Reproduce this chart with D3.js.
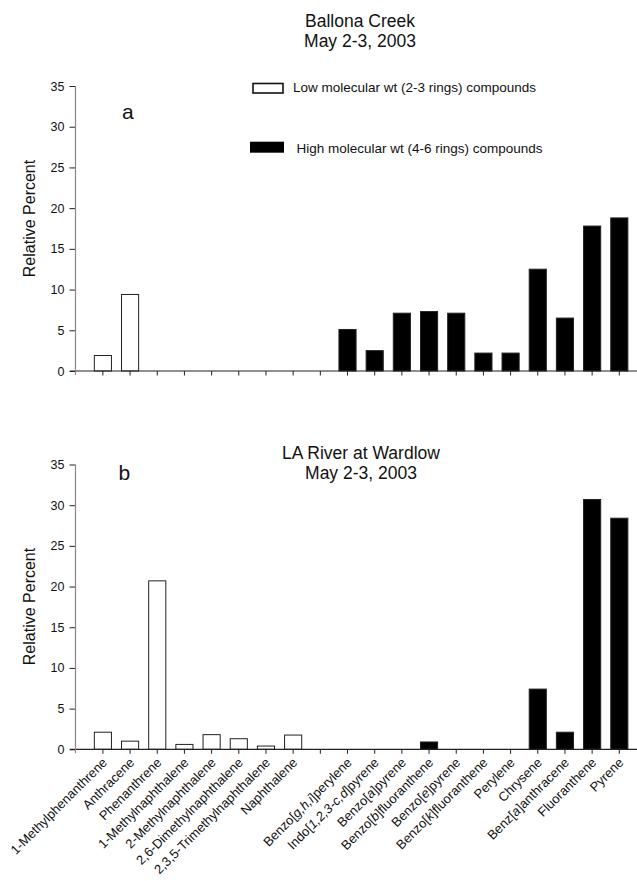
<!DOCTYPE html>
<html>
<head>
<meta charset="utf-8">
<script src="https://cdn.jsdelivr.net/npm/d3@7"></script>
<style>
  body { margin: 0; background: #fff; }
  svg { font-family: "Liberation Sans", Arial, sans-serif; }
</style>
</head>
<body>
<svg width="637" height="881"></svg>
<script>
// compounds, in the order they sit on the x axis (one blank slot between groups)
var lowCompounds = ["1-Methylphenanthrene", "Anthracene", "Phenanthrene", "1-Methylnaphthalene",
  "2-Methylnaphthalene", "2,6-Dimethylnaphthalene", "2,3,5-Trimethylnaphthalene", "Naphthalene"];
var highCompounds = ["Benzo[g,h,i]perylene", "Indo[1,2,3-c,d]pyrene", "Benzo[a]pyrene",
  "Benzo[b]fluoranthene", "Benzo[e]pyrene", "Benzo[k]fluoranthene", "Perylene", "Chrysene",
  "Benz[a]anthracene", "Fluoranthene", "Pyrene"];

// relative percent
var ballonaLow = [1.9, 9.4, 0, 0, 0, 0, 0, 0];
var ballonaHigh = [5.1, 2.5, 7.1, 7.3, 7.1, 2.2, 2.2, 12.5, 6.5, 17.8, 18.8];
var wardlowLow = [2.1, 1.0, 20.7, 0.6, 1.8, 1.3, 0.4, 1.75];
var wardlowHigh = [0, 0, 0, 0.9, 0, 0, 0, 7.4, 2.1, 30.7, 28.4];

var yTicks = [0, 5, 10, 15, 20, 25, 30, 35];

var svg = d3.select("svg");

var slots = lowCompounds.concat([" "], highCompounds);

var x = d3.scaleBand()
    .domain(slots)
    .range([89.3, 632.9])
    .paddingInner(0.37)
    .paddingOuter(0.185);

var axisLeftX = 75.5;

function panel(opts) {
  var y = d3.scaleLinear().domain([0, 35]).range([opts.bottom, opts.top]);
  var g = svg.append("g");

  var rows = lowCompounds.map(function(c, i) { return {name: c, v: opts.low[i], type: "low"}; })
    .concat(highCompounds.map(function(c, i) { return {name: c, v: opts.high[i], type: "high"}; }))
    .filter(function(d) { return d.v > 0; });

  g.selectAll("rect.bar")
    .data(rows)
    .enter().append("rect")
      .attr("class", "bar")
      .attr("x", d => x(d.name))
      .attr("width", x.bandwidth())
      .attr("y", d => y(d.v))
      .attr("height", d => y(0) - y(d.v))
      .attr("fill", d => d.type == "low" ? "#fff" : "#000")
      .attr("stroke", "#222")
      .attr("stroke-width", 1);

  // x axis
  var xa = g.append("g")
      .attr("transform", "translate(0," + y(0) + ")")
      .call(d3.axisBottom(x).tickSize(4.5).tickSizeOuter(0).tickFormat(""));
  xa.select(".domain").remove();
  xa.selectAll(".tick line").attr("stroke", "#222");
  g.append("line")
      .attr("x1", 70).attr("x2", 637)
      .attr("y1", y(0)).attr("y2", y(0))
      .attr("stroke", "#222").attr("stroke-width", 1.2);

  // y axis
  var ya = g.append("g")
      .attr("transform", "translate(" + axisLeftX + ",0)")
      .call(d3.axisLeft(y).tickValues(yTicks).tickSize(6).tickPadding(5));
  ya.select(".domain").remove();
  ya.selectAll(".tick line").attr("stroke", "#222");
  ya.selectAll(".tick text")
      .attr("font-size", "12.5px")
      .attr("font-family", "Liberation Sans, Arial, sans-serif")
      .attr("fill", "#111");
  g.append("line")
      .attr("x1", axisLeftX).attr("x2", axisLeftX)
      .attr("y1", opts.top).attr("y2", y(0) + 4)
      .attr("stroke", "#888").attr("stroke-width", 1.2);

  g.append("text")
      .attr("transform", "translate(35," + opts.labelY + ") rotate(-90)")
      .attr("text-anchor", "middle")
      .attr("font-size", "16px")
      .attr("fill", "#111")
      .text("Relative Percent");

  g.append("text")
      .attr("x", opts.letterX).attr("y", opts.letterY)
      .attr("font-size", "21px")
      .attr("fill", "#111")
      .text(opts.letter);

  var t = g.append("text")
      .attr("text-anchor", "middle")
      .attr("font-size", "17.5px")
      .attr("fill", "#111");
  t.append("tspan").attr("x", opts.titleX).attr("y", opts.titleY).text(opts.title);
  t.append("tspan").attr("x", opts.titleX).attr("y", opts.titleY + 19.5).text("May 2-3, 2003");

  return y;
}

panel({top: 86, bottom: 371, low: ballonaLow, high: ballonaHigh, labelY: 218.5,
  letter: "a", letterX: 122, letterY: 119, title: "Ballona Creek", titleX: 360, titleY: 27.3});
var yb = panel({top: 464.5, bottom: 749.3, low: wardlowLow, high: wardlowHigh, labelY: 606.5,
  letter: "b", letterX: 118.5, letterY: 480, title: "LA River at Wardlow", titleX: 361, titleY: 459});

// rotated compound labels under the lower panel, bracket contents in italics
var labels = svg.append("g").selectAll("text")
  .data(lowCompounds.concat(highCompounds))
  .enter().append("text")
    .attr("transform", d => "translate(" + (x(d) + x.bandwidth() / 2 + 5) + "," + (yb(0) + 14) + ") rotate(-45)")
    .attr("text-anchor", "end")
    .attr("font-size", "13px")
    .attr("fill", "#111");

labels.each(function(d) {
  var el = d3.select(this);
  d.split(/(\[[^\]]*\])/).forEach(function(part) {
    if (!part) return;
    if (part[0] == "[") {
      el.append("tspan").text("[");
      el.append("tspan").attr("font-style", "italic").text(part.slice(1, -1));
      el.append("tspan").text("]");
    } else {
      el.append("tspan").text(part);
    }
  });
});

// legend
var legend = svg.append("g");
legend.append("rect")
    .attr("x", 253).attr("y", 83.5).attr("width", 30).attr("height", 9.5)
    .attr("fill", "#fff").attr("stroke", "#111").attr("stroke-width", 1.6);
legend.append("text")
    .attr("x", 293).attr("y", 92)
    .attr("font-size", "13.5px").attr("fill", "#111")
    .text("Low molecular wt (2-3 rings) compounds");
legend.append("rect")
    .attr("x", 250).attr("y", 141.7).attr("width", 34).attr("height", 11)
    .attr("fill", "#000");
legend.append("text")
    .attr("x", 296.5).attr("y", 152.5)
    .attr("font-size", "13.5px").attr("fill", "#111")
    .text("High molecular wt (4-6 rings) compounds");
</script>
</body>
</html>
